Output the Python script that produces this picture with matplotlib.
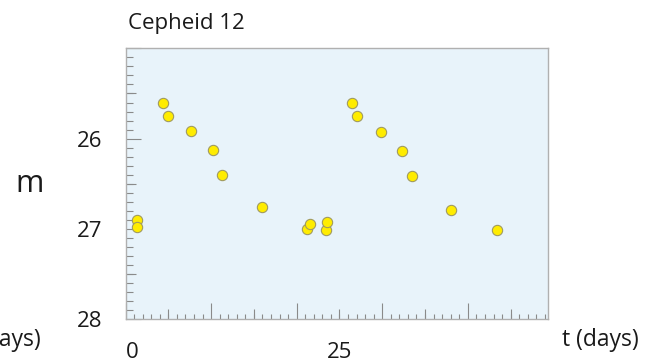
import matplotlib
matplotlib.use("Agg")
import matplotlib.pyplot as plt
from matplotlib.ticker import FixedLocator, MultipleLocator, NullFormatter

plt.rcParams['font.family'] = ['Open Sans', 'DejaVu Sans']

# Data (t in days, apparent magnitude m)
t_days = [1.3, 1.3, 4.35, 4.95, 7.65, 10.25, 11.3, 16.0, 21.2, 21.5,
          23.4, 23.5, 26.45, 27.05, 29.85, 32.35, 33.45, 38.05, 43.35]
mag = [26.90, 26.98, 25.60, 25.75, 25.92, 26.13, 26.40, 26.76, 27.00, 26.94,
       27.01, 26.92, 25.60, 25.75, 25.93, 26.14, 26.41, 26.79, 27.01]
title = "Cepheid 12"
x_label_vals = [0, 25]
y_label_vals = [26, 27, 28]

W, H = 650, 363
fig = plt.figure(figsize=(W / 100, H / 100), dpi=100)
ax = fig.add_axes([125.5 / W, 1 - 319.3 / H, (548.3 - 125.5) / W, (319.3 - 48.3) / H])
ax.set_facecolor('#e8f3fa')
for s in ax.spines.values():
    s.set_color('#b0b0b0')
    s.set_linewidth(1.0)

ax.scatter(t_days, mag, s=55, facecolor='#ffec00', edgecolor='#a09a60',
           linewidth=0.8, zorder=3)

ax.set_xlim(0, 49.4)
ax.set_ylim(28, 25)

tick_color = '#8a8a8a'
# x: major every 10 days, minor every 1 day
ax.xaxis.set_major_locator(MultipleLocator(10))
ax.xaxis.set_minor_locator(MultipleLocator(1))
ax.xaxis.set_major_formatter(NullFormatter())
ax.tick_params(axis='x', which='major', direction='in', length=11.5, width=0.8,
               color=tick_color, top=False)
ax.tick_params(axis='x', which='minor', direction='in', length=3.5, width=0.8,
               color=tick_color, top=False)
# y: major every 1 mag, minor every 0.1
ax.yaxis.set_major_locator(MultipleLocator(1))
ax.yaxis.set_minor_locator(MultipleLocator(0.1))
ax.yaxis.set_major_formatter(NullFormatter())
ax.tick_params(axis='y', which='major', direction='in', length=11, width=0.8,
               color=tick_color, right=False)
ax.tick_params(axis='y', which='minor', direction='in', length=4.8, width=0.8,
               color=tick_color, right=False)

# medium ticks
secx = ax.secondary_xaxis('bottom')
secx.xaxis.set_major_locator(FixedLocator([5, 15, 25, 35, 45]))
secx.xaxis.set_major_formatter(NullFormatter())
secx.tick_params(direction='in', length=7, width=0.8, color=tick_color)
secx.spines['bottom'].set_visible(False)

secy = ax.secondary_yaxis('left')
secy.yaxis.set_major_locator(FixedLocator([25.5, 26.5, 27.5]))
secy.yaxis.set_major_formatter(NullFormatter())
secy.tick_params(direction='in', length=7, width=0.8, color=tick_color)
secy.spines['left'].set_visible(False)

# labels
labx = ax.secondary_xaxis('bottom')
labx.set_xticks(x_label_vals, [str(v) for v in x_label_vals])
labx.tick_params(length=0, pad=16, labelsize=16, labelcolor='#1a1a1a')
labx.spines['bottom'].set_visible(False)
labx.get_xticklabels()[0].set_horizontalalignment('left')

laby = ax.secondary_yaxis('left')
laby.set_yticks(y_label_vals, [str(v) for v in y_label_vals])
laby.tick_params(length=0, pad=17, labelsize=16, labelcolor='#1a1a1a')
laby.spines['left'].set_visible(False)

fig.text(128 / W, 1 - 23 / H, title, fontsize=16, ha='left', va='center', color='#1a1a1a')
fig.text(30 / W, 1 - 184 / H, "m", fontsize=22, ha='center', va='center', color='#1a1a1a')
fig.text(600 / W, 1 - 340 / H, "t (days)", fontsize=16.5, ha='center', va='center', color='#1a1a1a')
fig.text(41 / W, 1 - 340 / H, "t (days)", fontsize=16.5, ha='right', va='center', color='#1a1a1a')

fig.savefig("out.png", dpi=100)
